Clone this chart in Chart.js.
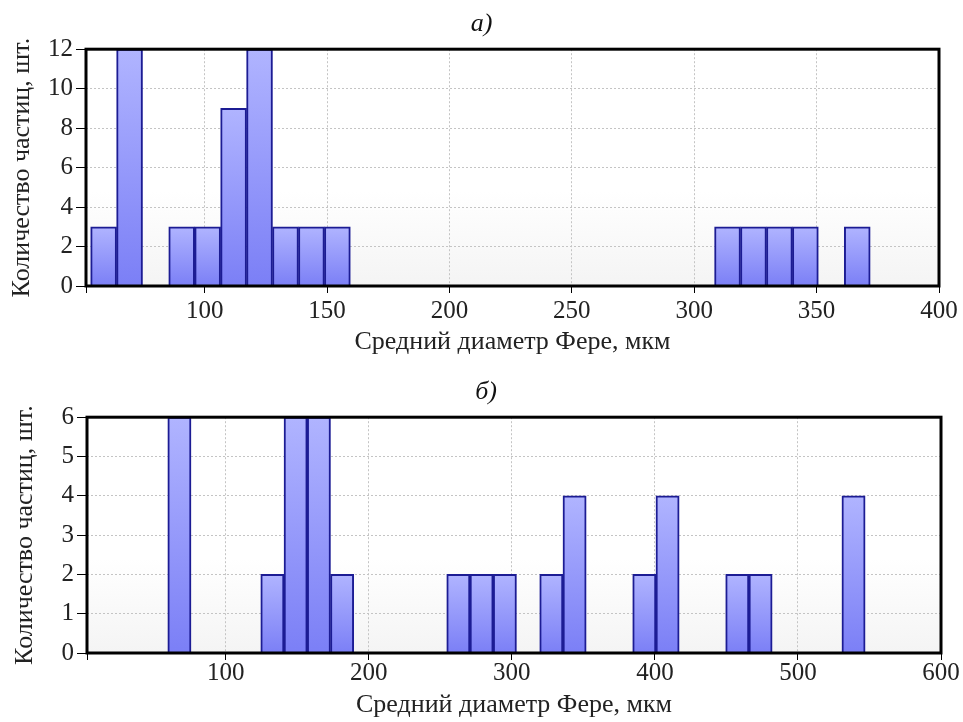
<!DOCTYPE html>
<html>
<head>
<meta charset="utf-8">
<script src="https://cdn.jsdelivr.net/npm/chart.js@4.4.1/dist/chart.umd.min.js"></script>
<style>
html, body { margin: 0; padding: 0; background: #fff; }
canvas { position: absolute; left: 0; }
#chartA { top: 0; }
#chartB { top: 360px; }
</style>
</head>
<body>
<canvas id="chartA" width="963" height="360"></canvas>
<canvas id="chartB" width="963" height="362"></canvas>
<script>
// bin centres (мкм) and particle counts
var binsA = [58.7, 69.3, 90.6, 101.2, 111.8, 122.4, 133.0, 143.6, 154.2, 313.6, 324.2, 334.8, 345.4, 366.6];
var countsA = [3, 12, 3, 3, 9, 12, 3, 3, 3, 3, 3, 3, 3, 3];
var binsB = [67.6, 132.6, 148.85, 165.1, 181.35, 262.6, 278.85, 295.1, 327.6, 343.85, 392.6, 408.85, 457.6, 473.85, 538.85];
var countsB = [6, 2, 6, 6, 2, 2, 2, 2, 2, 4, 2, 4, 2, 2, 4];

// labelled x ticks
var xTicksA = [100, 150, 200, 250, 300, 350, 400];
var xTicksB = [100, 200, 300, 400, 500, 600];

var xLabel = 'Средний диаметр Фере, мкм';
var yLabel = 'Количество частиц, шт.';
var serif = "'Liberation Serif', 'Times New Roman', serif";

// light top -> darker bottom, per bar
function barFill(c) {
    var chart = c.chart;
    var area = chart.chartArea;
    if (!area || c.type !== 'data') return '#9499fa';
    var yTop = chart.scales.y.getPixelForValue(c.parsed.y);
    var g = chart.ctx.createLinearGradient(0, yTop, 0, area.bottom);
    g.addColorStop(0, '#b0b4ff');
    g.addColorStop(1, '#7b7ff6');
    return g;
}

var frame = {
    id: 'frame',
    beforeDraw: function(chart) {
        var a = chart.chartArea, ctx = chart.ctx;
        var g = ctx.createLinearGradient(0, a.top, 0, a.bottom);
        g.addColorStop(0, '#ffffff');
        g.addColorStop(0.6, '#ffffff');
        g.addColorStop(1, '#f4f4f4');
        ctx.save();
        ctx.fillStyle = g;
        ctx.fillRect(a.left, a.top, a.right - a.left, a.bottom - a.top);
        ctx.restore();
    },
    afterDraw: function(chart) {
        var a = chart.chartArea, ctx = chart.ctx;
        ctx.save();
        ctx.strokeStyle = '#000';
        ctx.lineWidth = 3;
        ctx.strokeRect(a.left, a.top, a.right - a.left, a.bottom - a.top);
        ctx.restore();
    }
};

function makeChart(id, title, bins, counts, xTicks, cfg) {
    var pts = [];
    for (var i = 0; i < bins.length; i++) {
        pts.push({ x: bins[i], y: counts[i] });
    }
    return new Chart(document.getElementById(id), {
        type: 'bar',
        data: {
            datasets: [{
                data: pts,
                backgroundColor: barFill,
                borderColor: '#1c1c94',
                borderWidth: 2,
                barPercentage: 1,
                categoryPercentage: 1
            }]
        },
        options: {
            responsive: false,
            animation: false,
            devicePixelRatio: 1,
            layout: { padding: { left: cfg.padLeft, right: cfg.padRight, top: 0, bottom: 0 } },
            plugins: {
                legend: { display: false },
                tooltip: { enabled: false },
                title: {
                    display: true,
                    text: title,
                    color: '#111',
                    font: { family: serif, size: 26, style: 'italic', weight: 'normal' },
                    padding: { top: cfg.titleTop, bottom: cfg.titleBottom }
                }
            },
            scales: {
                x: {
                    type: 'linear',
                    offset: false,
                    min: cfg.xMin,
                    max: cfg.xMax,
                    afterFit: function(s) { s.height = cfg.xHeight; },
                    afterBuildTicks: function(s) {
                        var t = [{ value: cfg.xMin }];
                        xTicks.forEach(function(v) { t.push({ value: v }); });
                        s.ticks = t;
                    },
                    grid: {
                        offset: false,
                        color: '#c4c4c4',
                        tickColor: '#000',
                        tickLength: 7,
                        lineWidth: 1
                    },
                    border: { display: false, dash: [2, 2] },
                    ticks: {
                        maxRotation: 0,
                        autoSkip: false,
                        padding: cfg.xTickPad,
                        color: '#222',
                        font: { family: serif, size: 25 },
                        callback: function(v) { return xTicks.indexOf(v) >= 0 ? String(v) : ''; }
                    },
                    title: {
                        display: true,
                        text: xLabel,
                        color: '#222',
                        font: { family: serif, size: 26 },
                        padding: { top: 0, bottom: cfg.xTitlePad }
                    }
                },
                y: {
                    min: 0,
                    max: cfg.yMax,
                    afterFit: function(s) { s.width = cfg.yWidth; },
                    grid: {
                        color: '#c4c4c4',
                        tickColor: '#000',
                        tickLength: 10,
                        lineWidth: 1
                    },
                    border: { display: false, dash: [2, 2] },
                    ticks: {
                        stepSize: cfg.yStep,
                        padding: 3,
                        color: '#222',
                        font: { family: serif, size: 25 }
                    },
                    title: {
                        display: true,
                        text: yLabel,
                        color: '#222',
                        font: { family: serif, size: 26 },
                        padding: { top: cfg.yTitlePad, bottom: 0 }
                    }
                }
            }
        },
        plugins: [frame]
    });
}

// left padding shifts the title centre; y axis width keeps the plot edge in place
makeChart('chartA', 'а)', binsA, countsA, xTicksA, {
    padLeft: 24, padRight: 24, titleTop: 9, titleBottom: 9,
    xMin: 51.5, xMax: 400, xHeight: 74, xTickPad: 3, xTitlePad: 2,
    yMax: 12, yStep: 2, yWidth: 62, yTitlePad: -17
});

makeChart('chartB', 'б)', binsB, countsB, xTicksB, {
    padLeft: 31, padRight: 22, titleTop: 17, titleBottom: 9,
    xMin: 3, xMax: 600, xHeight: 69, xTickPad: -2, xTitlePad: 1,
    yMax: 6, yStep: 1, yWidth: 56, yTitlePad: -21
});
</script>
</body>
</html>
